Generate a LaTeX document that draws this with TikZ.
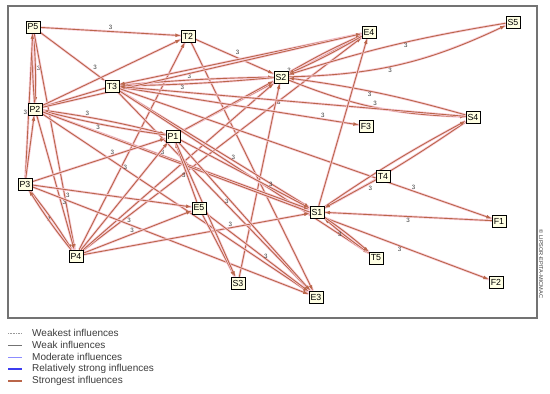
\documentclass[tikz,border=0pt]{standalone}
\usepackage{fontspec}
\setmainfont{Liberation Sans}
\usetikzlibrary{arrows.meta, shadows, backgrounds}
\definecolor{inflred}{HTML}{BA664A}
\definecolor{inflhalo}{HTML}{F8CCD8}
\definecolor{nodefill}{HTML}{FFFFE4}
\definecolor{textgrey}{HTML}{3C3C3C}
\definecolor{moderate}{HTML}{8C8CFF}
\definecolor{relstrong}{HTML}{3C3CF0}

\begin{document}
\begin{tikzpicture}[x=1pt, y=-1pt,
        var/.style={rectangle, draw=black, fill=nodefill, line width=0.6pt,
                    inner sep=1.7pt, minimum height=12pt, text=black,
                    font=\fontsize{8.8}{9}\selectfont,
                    drop shadow={shadow xshift=1.3pt, shadow yshift=-1.3pt, fill=black!45, opacity=1}},
        infl/.style={-{Latex[length=5.5pt, width=3.8pt]}, inflred, line width=0.9pt,
                     preaction={draw=inflhalo, line width=2.4pt, -}},
        lbl/.style={font=\fontsize{6.2}{7}\selectfont, text=textgrey, inner sep=1pt},
        keytext/.style={anchor=west, font=\fontsize{10}{10}\selectfont, text=textgrey, inner sep=0pt}
      ]
        \useasboundingbox (0,0) rectangle (550,394);

        % variables
        \node[var] (P5) at (33,27) {P5};
        \node[var] (T2) at (188,36) {T2};
        \node[var] (E4) at (369,32) {E4};
        \node[var] (S5) at (513,22) {S5};
        \node[var] (S2) at (281,77) {S2};
        \node[var] (T3) at (112,86) {T3};
        \node[var] (P2) at (35,109) {P2};
        \node[var] (P1) at (173,136) {P1};
        \node[var] (F3) at (366,126) {F3};
        \node[var] (S4) at (473,117) {S4};
        \node[var] (P3) at (25,184) {P3};
        \node[var] (T4) at (383,176) {T4};
        \node[var] (S1) at (317,212) {S1};
        \node[var] (F1) at (499,221) {F1};
        \node[var] (E5) at (199,208) {E5};
        \node[var] (T5) at (376,258) {T5};
        \node[var] (P4) at (76,256) {P4};
        \node[var] (S3) at (238,283) {S3};
        \node[var] (E3) at (316,297) {E3};
        \node[var] (F2) at (496,282) {F2};

        \node[font=\fontsize{5.6}{6}\selectfont, text=textgrey, rotate=-90] (copy) at (541,264) {\textcopyright\ LIPSOR-EPITA-MICMAC};

        \begin{scope}[on background layer]
        \draw[black!55, line width=1.1pt] (8,6) rectangle (537,318);

        % strongest influences
        \draw[infl] (P5) -- node[lbl, above] {3} (T2);
        \draw[infl] (P5) -- node[lbl, pos=.8, above right] {3} (T3);
        \draw[infl] (P5) to[bend left=3] node[lbl, right] {3} (P2);
        \draw[infl] (P2) to[bend left=3] (P5);
        \draw[infl] (P3) -- node[lbl, pos=.45, left] {3} (P5);
        \draw[infl] (P5) -- node[lbl, pos=.75, right] {3} (P4);
        \draw[infl] (T3) -- (P2);
        \draw[infl] (P2) -- (T2);
        \draw[infl] (P4) -- (T2);
        \draw[infl] (T2) -- node[lbl, above right] {3} (S2);
        \draw[infl] (T2) -- (E3);
        \draw[infl] (T3) to[bend left=2] node[lbl, pos=.45, above] {3} (S2);
        \draw[infl] (S2) to[bend left=2] node[lbl, pos=.6, below] {3} (T3);
        \draw[infl] (E4) -- (T3);
        \draw[infl] (P2) -- (E4);
        \draw[infl] (P1) -- node[lbl, pos=.6, above] {3} (E4);
        \draw[infl] (P4) -- (E4);
        \draw[infl] (P4) -- (S2);
        \draw[infl] (P1) -- (S2);
        \draw[infl] (S3) -- node[lbl, pos=.9, right] {3} (S2);
        \draw[infl] (S2) to[bend left=3] (E4);
        \draw[infl] (E4) to[bend left=3] (S2);
        \draw[infl] (S2) to[bend right=12] node[lbl, pos=.45, below] {3} (S5);
        \draw[infl] (S5) to[bend right=4] node[lbl, pos=.45, below] {3} (S2);
        \draw[infl] (S2) to[bend right=10] node[lbl, pos=.5, above] {3} (S4);
        \draw[infl] (S4) to[bend right=4] node[lbl, pos=.55, below] {3} (S2);
        \draw[infl] (T3) -- node[lbl, pos=.85, above] {3} (F3);
        \draw[infl] (T3) -- node[lbl, pos=.79, above] {3} (F1);
        \draw[infl] (T3) -- node[lbl, pos=.6, above] {3} (S1);
        \draw[infl] (T3) -- node[lbl, pos=.55, right] {3} (E3);
        \draw[infl] (T3) -- (T5);
        \draw[infl] (S4) -- (T3);
        \draw[infl] (P2) to[bend left=3] node[lbl, pos=.35, above] {3} (P1);
        \draw[infl] (P1) to[bend left=3] node[lbl, pos=.55, below] {3} (P2);
        \draw[infl] (P2) -- node[lbl, pos=.45, above] {3} (S1);
        \draw[infl] (P2) -- node[lbl, pos=.3, right] {3} (E3);
        \draw[infl] (P2) -- node[lbl, pos=.8, below] {3} (F2);
        \draw[infl] (P3) -- (P2);
        \draw[infl] (P3) to[bend left=3] node[lbl, left] {3} (P4);
        \draw[infl] (P4) to[bend left=3] (P3);
        \draw[infl] (P2) -- node[lbl, pos=.65, right] {3} (P4);
        \draw[infl] (P3) -- node[lbl, pos=.6, above] {3} (P1);
        \draw[infl] (P3) -- (E5);
        \draw[infl] (P3) -- node[lbl, pos=.35, above] {3} (E3);
        \draw[infl] (P4) -- node[lbl, pos=.45, above] {3} (E5);
        \draw[infl] (P4) -- node[lbl, pos=.65, above] {3} (S1);
        \draw[infl] (P4) -- (P1);
        \draw[infl] (E5) -- node[lbl, pos=.45, left] {3} (P1);
        \draw[infl] (E5) -- (S3);
        \draw[infl] (E5) -- node[lbl, pos=.55, right] {3} (E3);
        \draw[infl] (P1) -- (E3);
        \draw[infl] (P1) -- node[lbl, pos=.7, above] {3} (S1);
        \draw[infl] (P1) -- (S3);
        \draw[infl] (S4) to[bend left=3] node[lbl, pos=.72, below right] {3} (S1);
        \draw[infl] (S1) to[bend left=3] (S4);
        \draw[infl] (T4) -- (S1);
        \draw[infl] (F1) -- node[lbl, pos=.5, below] {3} (S1);
        \draw[infl] (T5) to[bend left=3] (S1);
        \draw[infl] (S1) to[bend left=3] node[lbl, pos=.4, below left] {3} (T5);
        \draw[infl] (S1) -- (E4);
        \end{scope}

        % legend
        \draw[black!40, densely dotted, line width=0.6pt] (8,333) -- (22,333);
        \draw[black!55, line width=0.7pt] (8,345) -- (22,345);
        \draw[moderate, line width=0.8pt] (8,357) -- (22,357);
        \draw[relstrong, line width=1.4pt] (8,369) -- (22,369);
        \draw[inflred, line width=1.4pt] (8,381) -- (22,381);
        \node[keytext] (k1) at (32,333) {Weakest influences};
        \node[keytext] (k2) at (32,345) {Weak influences};
        \node[keytext] (k3) at (32,357) {Moderate influences};
        \node[keytext] (k4) at (32,369) {Relatively strong influences};
        \node[keytext] (k5) at (32,381) {Strongest influences};
      \end{tikzpicture}
\end{document}
